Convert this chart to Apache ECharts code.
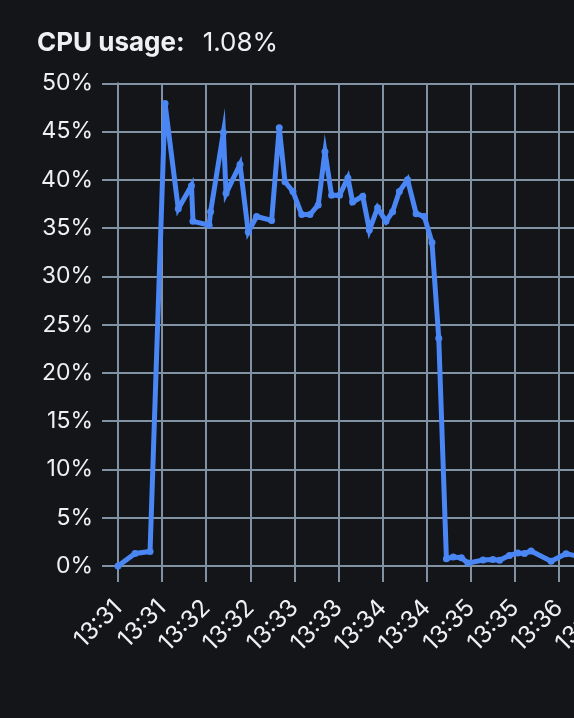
<!DOCTYPE html>
<html>
<head>
<meta charset="utf-8">
<script src="https://cdn.jsdelivr.net/npm/echarts@6/dist/echarts.min.js"></script>
<style>
html,body{margin:0;padding:0;background:#131519;overflow:hidden;width:574px;height:718px;}
#c{width:680px;height:718px;}
</style>
</head>
<body>
<div id="c"></div>
<script>
// seconds after 13:31:00
const times = [0, 11.6, 21.8, 32, 41, 50, 51, 62, 63, 71.7, 73.5, 83, 88.6, 94.3, 104.5, 109.7, 113.6, 119, 125, 130.6, 136.2, 140.8, 145.3, 150.7, 156.4, 159.6, 166.5, 171, 176.6, 182.3, 186.8, 191.4, 197, 202.8, 208.4, 213.6, 218.2, 223.4, 228, 233.6, 238.1, 248.3, 255, 259.6, 266.3, 272, 276.5, 281, 294.6, 304.8, 313, 320];
const cpu = [0, 1.3, 1.5, 47.9, 37.0, 39.4, 35.7, 35.3, 36.7, 44.9, 38.6, 41.6, 34.6, 36.2, 35.8, 45.4, 39.8, 38.8, 36.4, 36.4, 37.4, 42.9, 38.4, 38.4, 40.2, 37.7, 38.3, 34.8, 37.1, 35.7, 36.7, 38.8, 40.0, 36.5, 36.2, 33.5, 23.6, 0.76, 0.92, 0.86, 0.3, 0.62, 0.68, 0.6, 1.1, 1.34, 1.3, 1.55, 0.5, 1.28, 1.0, 1.08];
const startHour = 13, startMinute = 31;
const currentValue = '1.08%';
const titleLabel = 'CPU usage:';

function fmtTime(sec) {
  const total = startHour * 3600 + startMinute * 60 + sec;
  const h = Math.floor(total / 3600);
  const m = Math.floor((total % 3600) / 60);
  return h + ':' + String(m).padStart(2, '0');
}

const gridColor = '#8192a4';
const textColor = '#eef0f2';
const font = 'Inter';
const chart = echarts.init(document.getElementById('c'));
chart.setOption({
  backgroundColor: '#131519',
  animation: false,
  title: {
    left: 37, top: 30, padding: 0,
    text: '{b|' + titleLabel + '}{n|' + currentValue + '}',
    textStyle: {
      rich: {
        b: { fontFamily: font, fontWeight: 'bold', fontSize: 26, color: textColor, padding: [0, 18, 0, 0] },
        n: { fontFamily: font, fontWeight: 'normal', fontSize: 26, color: textColor }
      }
    }
  },
  grid: { left: 118, right: 680 - 118 - 529.2, top: 83.3, bottom: 718 - 566, containLabel: false },
  xAxis: {
    type: 'value', min: 0, max: 360, interval: 30,
    axisLine: { show: true, lineStyle: { color: gridColor, width: 2 } },
    axisTick: { show: true, length: 16, lineStyle: { color: gridColor, width: 2 } },
    splitLine: { show: true, lineStyle: { color: gridColor, width: 2 } },
    axisLabel: {
      rotate: 45, margin: 38, color: textColor, fontSize: 24, fontFamily: font,
      formatter: v => fmtTime(v)
    }
  },
  yAxis: {
    type: 'value', min: 0, max: 50, interval: 5,
    axisLine: { show: true, lineStyle: { color: gridColor, width: 2 } },
    axisTick: { show: true, length: 16, lineStyle: { color: gridColor, width: 2 } },
    splitLine: { show: true, lineStyle: { color: gridColor, width: 2 } },
    axisLabel: { color: textColor, fontSize: 23, fontFamily: font, margin: 25, formatter: '{value}%' }
  },
  series: [{
    type: 'line',
    data: times.map((t, i) => [t, cpu[i]]),
    symbol: 'circle', symbolSize: 7, showSymbol: true,
    itemStyle: { color: '#4a86f4' },
    lineStyle: { color: '#4a86f4', width: 5, join: 'miter', miterLimit: 10.2 },
    clip: true
  }]
});
</script>
</body>
</html>
